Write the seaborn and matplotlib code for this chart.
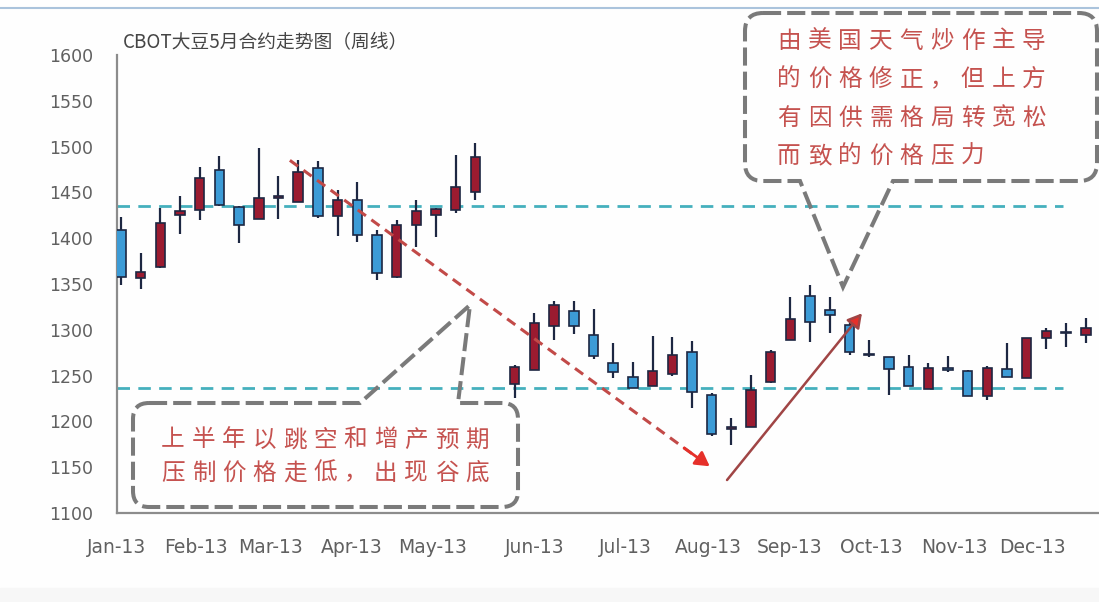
import numpy as np
import pandas as pd
import matplotlib.pyplot as plt
import seaborn as sns
from matplotlib.path import Path
from matplotlib.patches import PathPatch, Rectangle
from matplotlib.lines import Line2D


# =============================================================================
# weekly candles (week index from the first week of Jan 2013, one week missing)
# =============================================================================
weeks = [0, 1, 2, 3, 4, 5, 6, 7, 8, 9, 10, 11, 12, 13, 14, 15, 16, 17, 18,
         20, 21, 22, 23, 24, 25, 26, 27, 28, 29, 30, 31, 32, 33, 34, 35, 36, 37,
         38, 39, 40, 41, 42, 43, 44, 45, 46, 47, 48, 49]
opens = [1409, 1357, 1369, 1425, 1431, 1474, 1434, 1421, 1444, 1440, 1477, 1424, 1442, 1404, 1358, 1414, 1425, 1431, 1450,
         1241, 1256, 1304, 1321, 1294, 1264, 1248, 1239, 1252, 1276, 1229, 1192, 1194, 1243, 1289, 1337, 1322, 1305,
         1274, 1270, 1259, 1235, 1258, 1255, 1228, 1257, 1247, 1291, 1296, 1294]
highs = [1423, 1384, 1433, 1446, 1478, 1490, 1435, 1498, 1468, 1485, 1484, 1453, 1461, 1409, 1420, 1442, 1433, 1491, 1504,
         1262, 1318, 1331, 1331, 1323, 1286, 1265, 1293, 1292, 1288, 1231, 1204, 1251, 1278, 1336, 1349, 1336, 1310,
         1289, 1270, 1272, 1264, 1271, 1256, 1260, 1286, 1291, 1302, 1307, 1313]
lows = [1349, 1345, 1368, 1405, 1420, 1435, 1395, 1421, 1421, 1439, 1422, 1402, 1396, 1354, 1357, 1390, 1401, 1428, 1442,
        1226, 1256, 1289, 1295, 1268, 1247, 1236, 1239, 1250, 1215, 1184, 1174, 1194, 1242, 1289, 1287, 1297, 1273,
        1270, 1229, 1239, 1235, 1254, 1228, 1223, 1249, 1247, 1279, 1281, 1286]
closes = [1358, 1363, 1417, 1430, 1466, 1436, 1414, 1444, 1446, 1472, 1424, 1442, 1404, 1362, 1414, 1430, 1432, 1456, 1489,
          1259, 1307, 1327, 1304, 1271, 1254, 1237, 1255, 1272, 1232, 1186, 1194, 1234, 1276, 1312, 1309, 1316, 1276,
          1272, 1257, 1239, 1258, 1256, 1228, 1258, 1249, 1291, 1299, 1297, 1302]

month_labels = ['Jan-13', 'Feb-13', 'Mar-13', 'Apr-13', 'May-13', 'Jun-13',
                'Jul-13', 'Aug-13', 'Sep-13', 'Oct-13', 'Nov-13', 'Dec-13']
month_pos = [-0.2, 3.81, 7.57, 11.73, 15.85, 21.03, 25.6, 29.81, 33.98, 38.09, 42.31, 46.27]

y_ticks = [1100, 1150, 1200, 1250, 1300, 1350, 1400, 1450, 1500, 1550, 1600]
levels = [1435, 1237]

title = 'CBOT大豆5月合约走势图（周线）'
note_low = ['上半年以跳空和增产预期', '压制价格走低，出现谷底']
note_high = ['由美国天气炒作主导', '的价格修正，但上方', '有因供需格局转宽松', '而致的价格压力']


sns.set_theme(style='white')
plt.rcParams['font.family'] = ['DejaVu Sans', 'Noto Sans CJK SC']
cjk = ['Noto Sans CJK SC', 'DejaVu Sans']

W, H = 1099, 602
fig = plt.figure(figsize=(W / 100, H / 100), dpi=100, facecolor='#fefefe')
ax = fig.add_axes([117 / W, 1 - 513 / H, 1 - 117 / W, (513 - 55) / H])
ax.set_facecolor('none')


def fx(x):
    return x / W


def fy(y):
    return 1 - y / H


# =============================================================================
# candles
# =============================================================================
df = pd.DataFrame({'week': weeks, 'open': opens, 'high': highs, 'low': lows, 'close': closes})
df['up'] = df['close'] >= df['open']
df['bottom'] = df[['open', 'close']].min(axis=1)
df['height'] = (df['close'] - df['open']).abs().clip(lower=1.5)

edge = '#1d2742'
ax.vlines(df['week'], df['low'], df['high'], color=edge, lw=1.6, zorder=2)
ax.bar(df['week'], df['height'], bottom=df['bottom'], width=0.48,
       color=np.where(df['up'], '#9b1b30', '#3c9bd6'), edgecolor=edge, linewidth=1.2, zorder=3)

# support / resistance levels
ax.hlines(levels, -0.2, 47.84, colors='#45b0bd', lw=2.0, linestyles=(0, (4.5, 3)), zorder=1)

# falling trend (dashed) and rebound (solid)
ax.plot([8.58, 29.3], [1485, 1160], color='#c24a48', lw=2.2, dashes=(3.3, 2.2), zorder=4)
ax.annotate('', xy=(29.9, 1151), xytext=(28.6, 1171),
            arrowprops=dict(arrowstyle='-|>,head_length=0.7,head_width=0.4', fc='#e6302a', ec='#e6302a',
                            lw=2.0, shrinkA=0, shrinkB=0), zorder=5)
ax.annotate('', xy=(37.63, 1318), xytext=(30.78, 1136),
            arrowprops=dict(arrowstyle='-|>,head_length=0.7,head_width=0.4', fc='#e6302a', ec='#a04545',
                            lw=1.8, shrinkA=0, shrinkB=0), zorder=5)

ax.set_xlim(-0.2, (W - 121) / 19.69)
ax.set_ylim(1100, 1600)
ax.set_xticks(month_pos)
ax.set_xticklabels(month_labels)
ax.set_yticks(y_ticks)
ax.tick_params(axis='both', length=0, labelsize=12.5, labelcolor='#606060')
ax.tick_params(axis='x', pad=18, labelsize=13.5)
ax.tick_params(axis='y', pad=17)
ax.grid(False)
sns.despine(ax=ax)
for side in ['left', 'bottom']:
    ax.spines[side].set_color('#8c8c8c')
    ax.spines[side].set_linewidth(1.6)

fig.text(fx(123), fy(43), title, ha='left', va='center', fontsize=13.5, color='#454545', family=cjk)


# =============================================================================
# callouts
# =============================================================================
def callout(l, t, r, b, rad, top_wedge=None, bottom_wedge=None):
    verts = [(l + rad, t)]
    codes = [Path.MOVETO]
    if top_wedge:
        for p in top_wedge:
            verts.append(p)
            codes.append(Path.LINETO)
    verts += [(r - rad, t), (r, t), (r, t + rad), (r, b - rad), (r, b), (r - rad, b)]
    codes += [Path.LINETO, Path.CURVE3, Path.CURVE3, Path.LINETO, Path.CURVE3, Path.CURVE3]
    if bottom_wedge:
        for p in bottom_wedge:
            verts.append(p)
            codes.append(Path.LINETO)
    verts += [(l + rad, b), (l, b), (l, b - rad), (l, t + rad), (l, t), (l + rad, t)]
    codes += [Path.LINETO, Path.CURVE3, Path.CURVE3, Path.LINETO, Path.CURVE3, Path.CURVE3]
    verts = [(fx(x), fy(y)) for x, y in verts]
    patch = PathPatch(Path(verts, codes), transform=fig.transFigure, fill=False,
                      ec='#7a7a7a', lw=2.9, ls=(0, (4.5, 1.5)), zorder=6)
    fig.add_artist(patch)


callout(133, 403, 518, 507, 16, top_wedge=[(360, 403), (470, 305), (458, 403)])
callout(745, 13, 1097, 181, 18, bottom_wedge=[(893, 181), (843, 287), (800, 181)])


def spaced_text(lines, x0, y0, pitch, step):
    for j, line in enumerate(lines):
        for i, ch in enumerate(line):
            fig.text(fx(x0 + i * pitch), fy(y0 + j * step), ch, ha='center', va='center',
                     fontsize=17, color='#c5524f', family=cjk)


spaced_text(note_low, 173, 440, 30.4, 33)
spaced_text(note_high, 789, 41, 30.6, 38.5)

# thin frame line at the top of the screenshot, faint grey strip at the bottom
fig.add_artist(Line2D([0, 1], [fy(8), fy(8)], transform=fig.transFigure, color='#aac3dc', lw=1.5))
fig.add_artist(Rectangle((0, 0), 1, fy(588), transform=fig.transFigure, color='#f7f7f7', zorder=0))

fig.savefig('out.png', dpi=100)
